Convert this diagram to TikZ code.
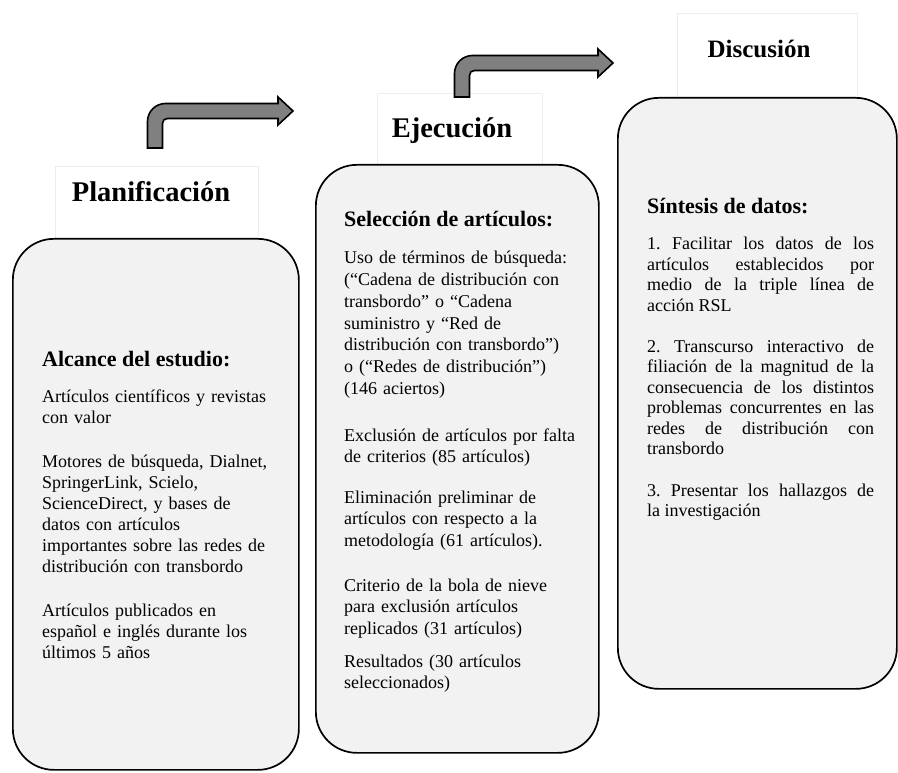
\documentclass[tikz,border=0pt]{standalone}
\usepackage{fontspec}
\setmainfont{Liberation Serif}
\usetikzlibrary{positioning}

\tikzset{
  phase/.style={draw=black, line width=1.7pt, fill=black!5, rounded corners=41pt, anchor=north west, inner sep=0pt},
  phasetitle/.style={draw=black!7, line width=0.6pt, fill=white, anchor=north west, inner sep=0pt},
  titletext/.style={font=\fontsize{28.5}{34}\selectfont\bfseries, anchor=base, inner sep=0pt},
  headtext/.style={font=\fontsize{22}{26}\selectfont\bfseries, anchor=base west, inner sep=0pt},
  bodytext/.style={font=\fontsize{18}{21}\selectfont, anchor=base west, inner sep=0pt, text width=270pt, align=left},
  justtext/.style={bodytext, font=\fontsize{18}{20.5}\selectfont\frenchspacing, text width=227pt, align=justify},
  bentarrow/.style={draw=black, line width=1.6pt, fill=black!50, line join=miter},
}

\begin{document}
\begin{tikzpicture}[x=1pt,y=-1pt]
  \useasboundingbox (0,0) rectangle (898,773);

  % title boxes
  \node[phasetitle, minimum width=203pt, minimum height=72pt] (plantit) at (55,166) {};
  \node[phasetitle, minimum width=165pt, minimum height=71pt] (ejectit) at (377,93) {};
  \node[phasetitle, minimum width=180pt, minimum height=84pt] (discutit) at (677,13) {};

  % phase boxes
  \node[phase, minimum width=286pt, minimum height=531pt] (plan) at (12,238) {};
  \node[phase, minimum width=283pt, minimum height=588pt] (ejec) at (315,164) {};
  \node[phase, minimum width=279pt, minimum height=591pt] (discu) at (617,97) {};

  % bent arrows: stem x / stem bottom / shaft y / tip x
  \foreach \a/\b/\c/\t in {155/148/111/293, 462/97/63/613}{
    \draw[bentarrow] ({\a-7.5},\b) -- ({\a-7.5},{\c-7.5+18})
      .. controls ({\a-7.5},{\c-7.5+8}) and ({\a-7.5+8},{\c-7.5}) .. ({\a-7.5+18},{\c-7.5})
      -- ({\t-15},{\c-7.5}) -- ({\t-15},{\c-14}) -- (\t,\c) -- ({\t-15},{\c+14})
      -- ({\t-15},{\c+7.5}) -- ({\a+7.5+5},{\c+7.5})
      .. controls ({\a+7.5+2},{\c+7.5}) and ({\a+7.5},{\c+7.5+2}) .. ({\a+7.5},{\c+7.5+5})
      -- ({\a+7.5},\b) -- cycle;
  }

  % titles
  \node[titletext] (plantxt) at (151,202) {Planificación};
  \node[titletext] (ejectxt) at (452,138) {Ejecución};
  \node[titletext, font=\fontsize{25}{30}\selectfont\bfseries] (discutxt) at (759,58) {Discusión};

  % Planificacion
  \node[headtext] (alchead) at (42,366) {Alcance del estudio:};
  \node[bodytext] (alc1) at (42,402) {Artículos científicos y revistas\\con valor};
  \node[bodytext] (alc2) at (42,467) {Motores de búsqueda, Dialnet,\\SpringerLink, Scielo,\\ScienceDirect, y bases de\\datos con artículos\\importantes sobre las redes de\\distribución con transbordo};
  \node[bodytext] (alc3) at (42,616) {Artículos publicados en\\español e inglés durante los\\últimos 5 años};

  % Ejecucion
  \node[headtext] (selhead) at (344,226) {Selección de artículos:};
  \node[bodytext, font=\fontsize{18}{21.7}\selectfont] (sel1) at (344,264) {Uso de términos de búsqueda:\\(“Cadena de distribución con\\transbordo” o “Cadena\\suministro y “Red de\\distribución con transbordo”)\\o (“Redes de distribución”)\\(146 aciertos)};
  \node[bodytext, font=\fontsize{18}{21.7}\selectfont] (sel2) at (344,441) {Exclusión de artículos por falta\\de criterios (85 artículos)};
  \node[bodytext, font=\fontsize{18}{21.7}\selectfont] (sel3) at (344,503) {Eliminación preliminar de\\artículos con respecto a la\\metodología (61 artículos).};
  \node[bodytext, font=\fontsize{18}{21.7}\selectfont] (sel4) at (344,591) {Criterio de la bola de nieve\\para exclusión artículos\\replicados (31 artículos)};
  \node[bodytext, font=\fontsize{18}{21.7}\selectfont] (sel5) at (344,667) {Resultados (30 artículos\\seleccionados)};

  % Discusion
  \node[headtext] (sinhead) at (647,214) {Síntesis de datos:};
  \node[justtext] (sin1) at (647,250) {1. Facilitar los datos de los\linebreak artículos establecidos por\linebreak medio de la triple línea de\linebreak acción RSL};
  \node[justtext] (sin2) at (647,352) {2. Transcurso interactivo de\linebreak filiación de la magnitud de la\linebreak consecuencia de los distintos\linebreak problemas concurrentes en las\linebreak redes de distribución con\linebreak transbordo};
  \node[justtext] (sin3) at (647,496) {3. Presentar los hallazgos de\linebreak la investigación};
\end{tikzpicture}
\end{document}
